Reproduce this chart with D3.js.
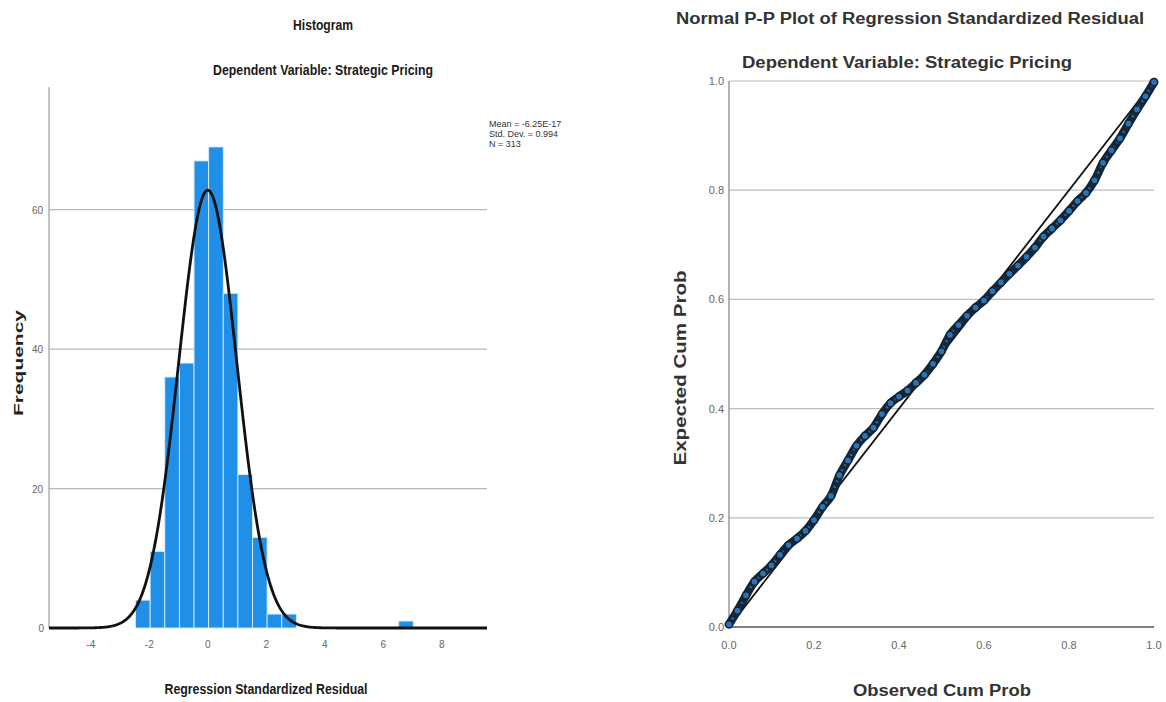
<!DOCTYPE html>
<html>
<head>
<meta charset="utf-8">
<script src="https://cdn.jsdelivr.net/npm/d3@7/dist/d3.min.js"></script>
<style>
  html, body { margin: 0; padding: 0; background: #fff; }
  svg { display: block; }
</style>
</head>
<body>
<svg id="chart" width="1166" height="702"></svg>
<script>
// ---------------- DATA ----------------
// Histogram: lower edges of bins (width 0.5) and frequencies
const binLower = [-2.47, -1.97, -1.47, -0.97, -0.47, 0.03, 0.53, 1.03, 1.53, 2.03, 2.53, 6.53];
const binFreq  = [4, 11, 36, 38, 67, 69, 48, 22, 13, 2, 2, 1];
const binWidth = 0.5;
const histXTicks = [-4, -2, 0, 2, 4, 6, 8];
const histYTicks = [0, 20, 40, 60];
const statLabels = ["Mean = -6.25E-17", "Std. Dev. = 0.994", "N = 313"];
const statMean = -6.25e-17, statSD = 0.994, statN = 313;

// P-P plot: observed cum prob and expected cum prob
const ppObserved = [0.00,0.02,0.04,0.06,0.08,0.10,0.12,0.14,0.16,0.18,0.20,0.22,0.24,0.26,0.28,0.30,0.32,0.34,0.36,0.38,0.40,0.42,0.44,0.46,0.48,0.50,0.52,0.54,0.56,0.58,0.60,0.62,0.64,0.66,0.68,0.70,0.72,0.74,0.76,0.78,0.80,0.82,0.84,0.86,0.88,0.90,0.92,0.94,0.96,0.98,1.00];
const ppExpected = [0.005,0.030,0.058,0.083,0.098,0.113,0.132,0.150,0.162,0.176,0.196,0.220,0.240,0.278,0.305,0.332,0.350,0.365,0.390,0.410,0.422,0.433,0.447,0.462,0.482,0.505,0.535,0.553,0.570,0.585,0.598,0.615,0.631,0.647,0.662,0.678,0.695,0.715,0.730,0.745,0.762,0.780,0.795,0.818,0.850,0.873,0.895,0.922,0.948,0.972,0.998];
const ppTicks = [0.0, 0.2, 0.4, 0.6, 0.8, 1.0];

// ---------------- DRAW ----------------
const svg = d3.select("#chart");
const narrow = "'Liberation Sans Narrow', 'Liberation Sans', Arial, sans-serif";
const sans = "'Liberation Sans', Arial, sans-serif";

function txt(g, x, y, s, opts) {
  const t = g.append("text").attr("x", x).attr("y", y).text(s)
    .attr("font-family", opts.family || sans)
    .attr("font-size", opts.size || 12)
    .attr("font-weight", opts.weight || "normal")
    .attr("fill", opts.fill || "#222")
    .attr("text-anchor", opts.anchor || "middle");
  if (opts.len) t.attr("textLength", opts.len).attr("lengthAdjust", "spacingAndGlyphs");
  if (opts.rotate) t.attr("transform", `rotate(-90, ${x}, ${y})`);
  return t;
}

// ===== Histogram =====
const hx = d3.scaleLinear().domain([-5.43, 9.55]).range([49, 487]);
const hy = d3.scaleLinear().domain([0, 77.6]).range([628, 87]);
const H = svg.append("g");

// gridlines
H.append("g").selectAll("line").data(histYTicks.filter(d => d > 0)).join("line")
  .attr("x1", hx.range()[0]).attr("x2", hx.range()[1])
  .attr("y1", d => hy(d)).attr("y2", d => hy(d))
  .attr("stroke", "#b8b8b8").attr("stroke-width", 1.2);

// y axis line
H.append("line").attr("x1", 49).attr("x2", 49).attr("y1", hy.range()[1]).attr("y2", hy(0))
  .attr("stroke", "#b0b0b0").attr("stroke-width", 1.5);

// bars
H.append("g").selectAll("rect").data(binLower.map((d, i) => ({x0: d, f: binFreq[i]}))).join("rect")
  .attr("x", d => hx(d.x0)).attr("width", d => hx(d.x0 + binWidth) - hx(d.x0))
  .attr("y", d => hy(d.f)).attr("height", d => hy(0) - hy(d.f))
  .attr("fill", "#1f8fe8").attr("stroke", "#d9ecfb").attr("stroke-width", 0.9);

// normal curve from stated mean, SD, N
const step = (hx.domain()[1] - hx.domain()[0]) / 400;
const curvePts = d3.range(hx.domain()[0], hx.domain()[1] + step / 2, step).map(v => {
  const z = (v - statMean) / statSD;
  return [v, statN * binWidth / (statSD * Math.sqrt(2 * Math.PI)) * Math.exp(-0.5 * z * z)];
});
H.append("path").datum(curvePts)
  .attr("d", d3.line().x(d => hx(d[0])).y(d => hy(d[1])))
  .attr("fill", "none").attr("stroke", "#111").attr("stroke-width", 2.8);

// tick labels
H.append("g").selectAll("text").data(histYTicks).join("text")
  .attr("x", d => d === 0 ? 44 : 43).attr("y", d => hy(d) + 4).text(d => d)
  .attr("font-family", narrow).attr("font-size", 10).attr("fill", "#666").attr("text-anchor", "end");
H.append("g").selectAll("text").data(histXTicks).join("text")
  .attr("x", d => hx(d)).attr("y", 648).text(d => d < 0 ? "-" + Math.abs(d) : d)
  .attr("font-family", narrow).attr("font-size", 10).attr("fill", "#666").attr("text-anchor", "middle");

// titles
txt(H, 323, 30, "Histogram", {family: narrow, size: 15, weight: "bold", len: 60, fill: "#1a1a1a"});
txt(H, 323, 75, "Dependent Variable: Strategic Pricing", {family: narrow, size: 15, weight: "bold", len: 220, fill: "#1a1a1a"});
txt(H, 266, 694, "Regression Standardized Residual", {family: narrow, size: 15, weight: "bold", len: 203, fill: "#1a1a1a"});
txt(H, 23, 363, "Frequency", {size: 13, weight: "bold", rotate: true, len: 106});

// stats box
statLabels.forEach((s, i) => {
  txt(H, 489, 127 + i * 10, s, {family: narrow, size: 9, anchor: "start", fill: "#333"});
});

// ===== P-P plot =====
const px = d3.scaleLinear().domain([0, 1]).range([729, 1154]);
const py = d3.scaleLinear().domain([0, 1]).range([627, 81]);
const P = svg.append("g");

P.append("g").selectAll("line").data(ppTicks.filter(d => d > 0)).join("line")
  .attr("x1", px(0)).attr("x2", px(1))
  .attr("y1", d => py(d)).attr("y2", d => py(d))
  .attr("stroke", "#bdbdbd").attr("stroke-width", 1.2);
P.append("line").attr("x1", px(0)).attr("x2", px(0)).attr("y1", py(1)).attr("y2", py(0))
  .attr("stroke", "#9a9a9a").attr("stroke-width", 1.5);
P.append("line").attr("x1", px(0)).attr("x2", px(1)).attr("y1", py(0)).attr("y2", py(0))
  .attr("stroke", "#555").attr("stroke-width", 1.5);

// diagonal reference line
P.append("line").attr("x1", px(0)).attr("y1", py(0)).attr("x2", px(1)).attr("y2", py(1))
  .attr("stroke", "#111").attr("stroke-width", 1.8);

// points band
const ppData = ppObserved.map((d, i) => [d, ppExpected[i]]);
const bandLine = d3.line().x(d => px(d[0])).y(d => py(d[1])).curve(d3.curveMonotoneX);
P.append("path").datum(ppData).attr("d", bandLine)
  .attr("fill", "none").attr("stroke", "#14263a").attr("stroke-width", 8.5).attr("stroke-linecap", "round");
P.append("path").datum(ppData).attr("d", bandLine)
  .attr("fill", "none").attr("stroke", "#2a6aa3").attr("stroke-width", 2.5).attr("stroke-dasharray", "2,4");
P.append("g").selectAll("circle").data(ppData).join("circle")
  .attr("cx", d => px(d[0])).attr("cy", d => py(d[1])).attr("r", 3.6)
  .attr("fill", "#2a74b5").attr("stroke", "#13222f").attr("stroke-width", 1.5);

// tick labels
P.append("g").selectAll("text").data(ppTicks).join("text")
  .attr("x", 724).attr("y", d => py(d) + 4).text(d => d.toFixed(1))
  .attr("font-family", narrow).attr("font-size", 11).attr("fill", "#666").attr("text-anchor", "end");
P.append("g").selectAll("text").data(ppTicks).join("text")
  .attr("x", d => px(d)).attr("y", 649).text(d => d.toFixed(1))
  .attr("font-family", narrow).attr("font-size", 11).attr("fill", "#666").attr("text-anchor", "middle");

// titles
txt(P, 910, 24, "Normal P-P Plot of Regression Standardized Residual", {size: 16, weight: "bold", len: 468, fill: "#333"});
txt(P, 907, 68, "Dependent Variable: Strategic Pricing", {size: 16, weight: "bold", len: 330, fill: "#333"});
txt(P, 942, 696, "Observed Cum Prob", {size: 16, weight: "bold", len: 178, fill: "#333"});
txt(P, 686, 368, "Expected Cum Prob", {size: 16, weight: "bold", len: 195, rotate: true, fill: "#333"});
</script>
</body>
</html>
